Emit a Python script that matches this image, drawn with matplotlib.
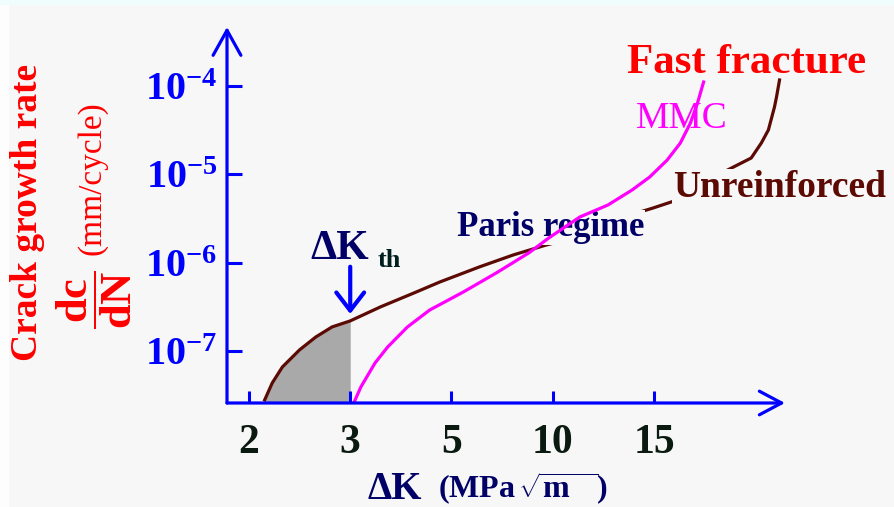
import numpy as np
import matplotlib
matplotlib.use('Agg')
import matplotlib.pyplot as plt
from matplotlib.patches import Rectangle

plt.rcParams['font.family'] = 'Liberation Serif'
plt.rcParams['mathtext.fontset'] = 'custom'
plt.rcParams['mathtext.rm'] = 'Liberation Serif'
plt.rcParams['mathtext.it'] = 'Liberation Serif:italic'
plt.rcParams['mathtext.bf'] = 'Liberation Serif:bold'

# axis ticks (schematic: ticks evenly spaced)
dk_ticks = [2, 3, 5, 10, 15]
dk_labels = ['2', '3', '5', '10', '15']
rate_ticks = [1e-7, 1e-6, 1e-5, 1e-4]
rate_labels = [r'$\mathbf{10^{-7}}$', r'$\mathbf{10^{-6}}$',
               r'$\mathbf{10^{-5}}$', r'$\mathbf{10^{-4}}$']

# unreinforced alloy curve
dk_unreinf = [2.155, 2.23, 2.33, 2.50, 2.66, 2.82, 3.0, 3.60, 4.26, 4.77,
              6.37, 8.04, 9.66, 10.67, 13.35, 14.96, 16.45, 18.15, 19.8,
              20.3, 20.65, 20.95, 21.05, 21.2]
rate_unreinf = [2.79e-8, 4.35e-8, 6.59e-8, 1.03e-7, 1.44e-7, 1.87e-7, 2.19e-7,
                3.16e-7, 4.54e-7, 6.04e-7, 8.93e-7, 1.22e-6, 1.58e-6, 1.81e-6,
                3.21e-6, 4.16e-6, 5.40e-6, 9.83e-6, 1.53e-5, 2.26e-5, 3.18e-5,
                5.78e-5, 7.5e-5, 1.17e-4]

# MMC curve
dk_mmc = [3.06, 3.21, 3.49, 3.74, 4.13, 4.57, 5.59, 7.21, 8.82, 9.80, 11.34,
          12.73, 13.92, 14.79, 15.65, 16.3, 16.8, 17.15, 17.45]
rate_mmc = [2.5e-8, 3.91e-8, 7.31e-8, 1.11e-7, 1.87e-7, 2.91e-7, 4.66e-7,
            7.64e-7, 1.29e-6, 1.90e-6, 3.29e-6, 4.5e-6, 6.65e-6, 9.33e-6,
            1.45e-5, 2.26e-5, 3.81e-5, 6.42e-5, 1.11e-4]

dk_th = 3.0
rate_th = 2.19e-7

BG = '#f7f7f7'
NAVY = '#000066'
BROWN = '#5c0a04'
W, H = 894, 507


def fx(px):
    return px / W


def fy(py):
    return 1 - py / H


# piecewise mapping so that the tick values sit at equal spacing
def k_to_pos(k):
    k = np.asarray(k, dtype=float)
    pos = np.interp(k, dk_ticks, np.arange(len(dk_ticks)))
    pos = np.where(k < 2, k - 2, pos)
    pos = np.where(k > 15, 4 + (k - 15) / 5.0, pos)
    return pos


def pos_to_k(p):
    p = np.asarray(p, dtype=float)
    k = np.interp(p, np.arange(len(dk_ticks)), dk_ticks)
    k = np.where(p < 0, p + 2, k)
    k = np.where(p > 4, 15 + (p - 4) * 5.0, k)
    return k


fig = plt.figure(figsize=(W / 100, H / 100), dpi=100, facecolor=BG)
fig.patches.append(Rectangle((0, fy(5)), 1, 5 / H, transform=fig.transFigure,
                             facecolor='#effdfd', edgecolor='none'))
fig.patches.append(Rectangle((0, 0), fx(9), fy(5), transform=fig.transFigure,
                             facecolor='#fdfdfd', edgecolor='none'))

ax = fig.add_axes([fx(227), fy(403), fx(785) - fx(227), fy(27) - fy(403)])
ax.set_facecolor('none')
ax.set_xscale('function', functions=(k_to_pos, pos_to_k))
ax.set_yscale('log')
ax.set_xlim(1.783, 21.47)
ax.set_ylim(10 ** -7.589, 10 ** -3.332)
for s in ax.spines.values():
    s.set_visible(False)

# shaded threshold region
ax.fill_between(dk_unreinf[:7], rate_unreinf[:7], 1e-9, color='#a9a9a9',
                lw=0, zorder=1)
ax.plot(dk_unreinf, rate_unreinf, color=BROWN, lw=2.3, zorder=2)
ax.plot(dk_mmc, rate_mmc, color='#ff00ff', lw=2.3, zorder=4)

ax.set_xticks(dk_ticks)
ax.set_xticklabels(dk_labels, fontweight='bold')
ax.set_yticks(rate_ticks)
ax.set_yticklabels(rate_labels)
ax.minorticks_off()
ax.tick_params(axis='both', direction='in', color='blue', width=2.2)
ax.tick_params(axis='x', length=8.5, pad=15, labelsize=30, labelcolor='#0a1a10')
ax.tick_params(axis='y', length=11, pad=7, labelsize=29, labelcolor='blue')

# axes as arrows
ax.annotate('', xy=(0, 1), xytext=(0, 0), xycoords='axes fraction',
            arrowprops=dict(arrowstyle='->,head_length=1.8,head_width=1.0',
                            color='blue', lw=2.3, shrinkA=0, shrinkB=0,
                            mutation_scale=10), zorder=5)
ax.annotate('', xy=(1, 0), xytext=(0, 0), xycoords='axes fraction',
            arrowprops=dict(arrowstyle='->,head_length=1.6,head_width=0.85',
                            color='blue', lw=2.3, shrinkA=0, shrinkB=0,
                            mutation_scale=10), zorder=5)

# threshold arrow and label
ax.annotate('', xy=(dk_th, rate_th), xytext=(0, 39), textcoords='offset points',
            arrowprops=dict(arrowstyle='->,head_length=1.3,head_width=1.0',
                            color='blue', lw=3, shrinkA=0, shrinkB=5,
                            mutation_scale=10), zorder=5)
ax.annotate('\u0394K', xy=(dk_th, rate_th), xytext=(-29, 44.6),
            textcoords='offset points', color=NAVY, fontsize=30,
            fontweight='bold', va='baseline', ha='left')
ax.annotate('th', xy=(dk_th, rate_th), xytext=(19.4, 39),
            textcoords='offset points', color='#002020', fontsize=19,
            fontweight='bold', va='baseline', ha='left')

# curve labels
bb = dict(facecolor=BG, edgecolor='none', pad=0.5)
ax.text(fx(457), fy(236), 'Paris regime', transform=fig.transFigure,
        color=NAVY, fontsize=25, fontweight='bold', va='baseline',
        bbox=bb, zorder=3, clip_on=False)
ax.text(fx(673), fy(197), 'Unreinforced', transform=fig.transFigure,
        color=BROWN, fontsize=27, fontweight='bold', va='baseline',
        bbox=bb, zorder=3, clip_on=False)
ax.text(fx(636), fy(128), 'MMC', transform=fig.transFigure,
        color='#ff00ff', fontsize=27, va='baseline', zorder=3, clip_on=False)
ax.text(fx(627), fy(73), 'Fast fracture', transform=fig.transFigure,
        color='red', fontsize=31, fontweight='bold', va='baseline',
        zorder=3, clip_on=False)

# axis titles
fig.text(fx(28), fy(212), 'Crack growth rate', rotation=90, ha='center',
         va='center', color='red', fontsize=27, fontweight='bold')
fig.text(fx(92), fy(178), '(mm/cycle)', rotation=90, ha='center',
         va='center', color='red', fontsize=24)
fig.text(fx(94), fy(300), r'$\dfrac{\mathbf{dc}}{\mathbf{dN}}$', rotation=90,
         ha='center', va='center', color='red', fontsize=32)
fig.text(fx(367), fy(499), '\u0394K', color=NAVY, fontsize=28,
         fontweight='bold', va='baseline')
fig.text(fx(438), fy(498), r'(MPa$\,\sqrt{\mathbf{m}\ \ \ }$)', color=NAVY,
         fontsize=23, fontweight='bold', va='baseline')

fig.savefig('out.png', dpi=100, facecolor=BG)
